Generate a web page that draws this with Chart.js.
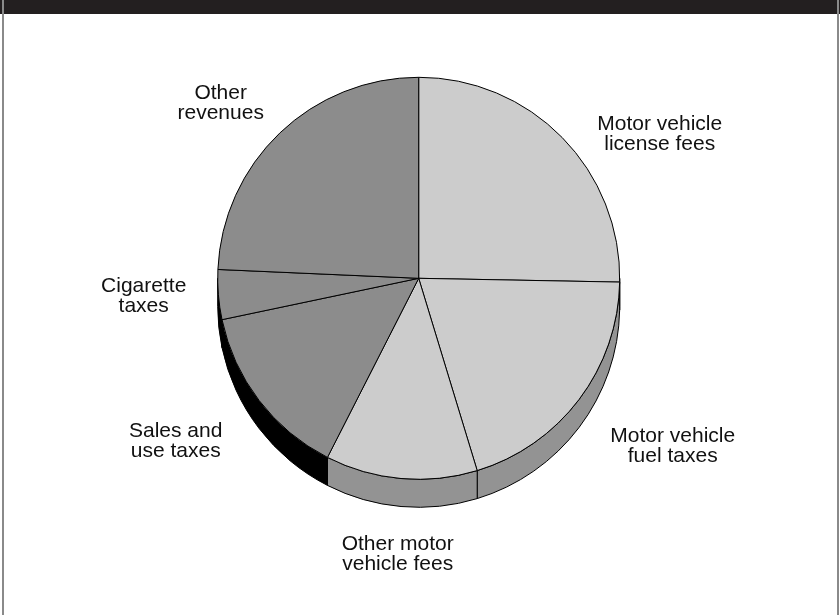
<!DOCTYPE html>
<html>
<head>
<meta charset="utf-8">
<script src="https://cdn.jsdelivr.net/npm/chart.js@4/dist/chart.umd.min.js"></script>
<style>
  html, body { margin: 0; padding: 0; background: #ffffff; }
  #frame { position: relative; width: 840px; height: 615px; overflow: hidden; background: #fff; }
  #hdr { position: absolute; left: 0; top: 0; width: 840px; height: 14px; background: #231f20; }
  #bl { position: absolute; left: 2px; top: 0; width: 2px; height: 615px; background: #8a8a8a; }
  #br { position: absolute; left: 837px; top: 0; width: 2px; height: 615px; background: #8a8a8a; }
  #c { position: absolute; left: 0; top: 0; }
</style>
</head>
<body>
<div id="frame">
  <div id="hdr"></div>
  <div id="bl"></div>
  <div id="br"></div>
  <canvas id="c" width="840" height="615"></canvas>
</div>
<script>
// ---- data (percent of total) ----
const categories = [
  "Motor vehicle license fees",
  "Motor vehicle fuel taxes",
  "Other motor vehicle fees",
  "Sales and use taxes",
  "Cigarette taxes",
  "Other revenues"
];
const shares = [25.3, 20.0, 12.2, 14.2, 4.0, 24.3];
const labelLines = [
  ["Motor vehicle", "license fees"],
  ["Motor vehicle", "fuel taxes"],
  ["Other motor", "vehicle fees"],
  ["Sales and", "use taxes"],
  ["Cigarette", "taxes"],
  ["Other", "revenues"]
];

// ---- styles / layout ----
const LIGHT = "#cccccc", DARK = "#8c8c8c";
const topColors  = [LIGHT, LIGHT, LIGHT, DARK, DARK, DARK];
const sideColors = ["#939393", "#939393", "#939393", "#000000", "#000000", "#000000"];
const DEPTH = 28;
// label anchor (center x, first baseline) relative to pie centre, px
const labelOffsets = [
  [241, -148], [254, 164], [-21, 272], [-243, 159], [-275, 14], [-198, -179]
];

const sidePlugin = {
  id: "side3d",
  beforeDatasetsDraw(chart) {
    const ctx = chart.ctx;
    const meta = chart.getDatasetMeta(0);
    ctx.save();
    ctx.lineWidth = 1;
    ctx.strokeStyle = "#000";
    meta.data.forEach((arc, i) => {
      const { x, y, startAngle, endAngle, outerRadius: r } = arc.getProps(["x", "y", "startAngle", "endAngle", "outerRadius"], true);
      const a1 = Math.max(startAngle, 0);
      const a2 = Math.min(endAngle, Math.PI);
      if (a2 <= a1) return;
      ctx.beginPath();
      ctx.arc(x, y, r, a1, a2, false);
      ctx.lineTo(x + r * Math.cos(a2), y + r * Math.sin(a2) + DEPTH);
      ctx.arc(x, y + DEPTH, r, a2, a1, true);
      ctx.closePath();
      ctx.fillStyle = sideColors[i];
      ctx.fill();
      ctx.stroke();
    });
    ctx.restore();
  },
  afterDraw(chart) {
    const ctx = chart.ctx;
    const arc0 = chart.getDatasetMeta(0).data[0];
    const cx = arc0.x, cy = arc0.y;
    ctx.save();
    ctx.fillStyle = "#111";
    ctx.font = "21px 'Liberation Sans', Arial, sans-serif";
    ctx.textAlign = "center";
    ctx.textBaseline = "alphabetic";
    labelLines.forEach((lines, i) => {
      const [ox, oy] = labelOffsets[i];
      lines.forEach((t, k) => ctx.fillText(t, cx + ox, cy + oy + k * 20));
    });
    ctx.restore();
  }
};

new Chart(document.getElementById("c"), {
  type: "pie",
  data: {
    labels: categories,
    datasets: [{
      data: shares,
      backgroundColor: topColors,
      borderColor: "#000000",
      borderWidth: 1
    }]
  },
  options: {
    responsive: false,
    devicePixelRatio: 1,
    animation: false,
    layout: { padding: { left: 217.2, right: 219.8, top: 76.8, bottom: 135.2 } },
    plugins: { legend: { display: false }, tooltip: { enabled: false } }
  },
  plugins: [sidePlugin]
});
</script>
</body>
</html>
